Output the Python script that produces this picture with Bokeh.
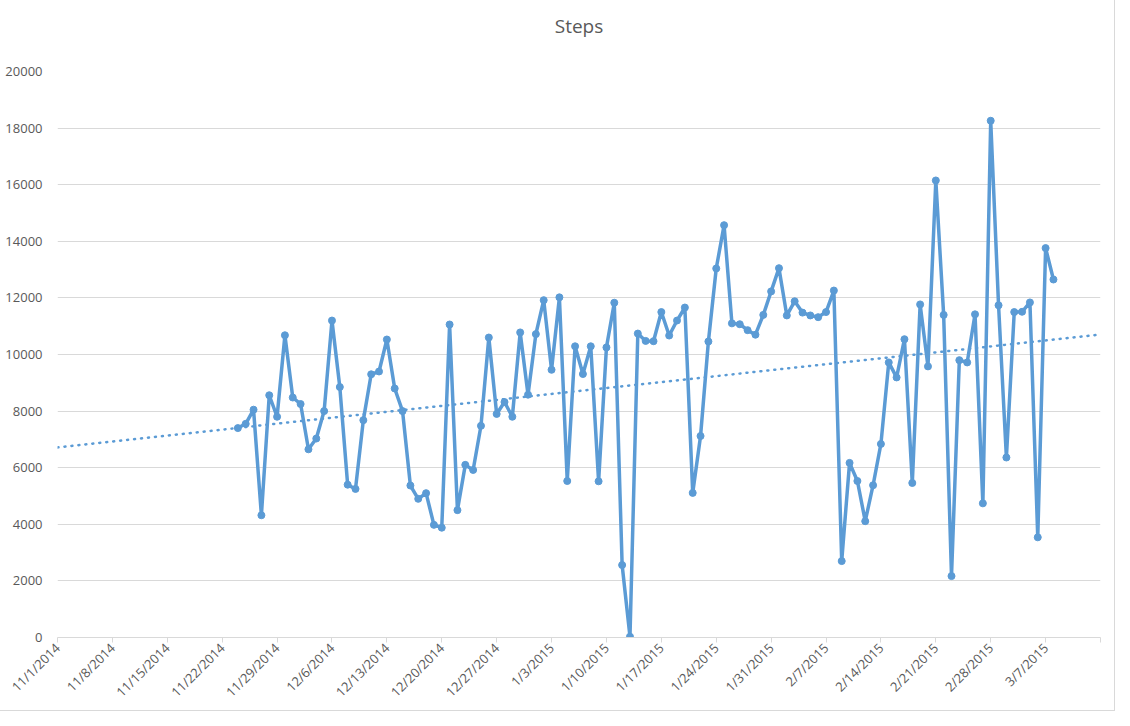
import numpy as np
import pandas as pd
from bokeh.plotting import figure
from bokeh.models import FixedTicker, Range1d, Title
from bokeh.embed import file_html
from bokeh.resources import INLINE

# ---- data ----
start_date = "2014-11-24"
steps = [
    7400, 7550, 8050, 4320, 8560, 7800, 10680, 8480, 8250, 6650,
    7030, 8000, 11200, 8850, 5400, 5250, 7680, 9300, 9400, 10530,
    8800, 8000, 5370, 4900, 5100, 3980, 3880, 11060, 4500, 6100,
    5920, 7480, 10600, 7900, 8320, 7800, 10780, 8580, 10720, 11920,
    9460, 12020, 5530, 10290, 9310, 10290, 5520, 10250, 11830, 2560,
    30, 10740, 10480, 10470, 11500, 10670, 11200, 11660, 5110, 7120,
    10460, 13040, 14570, 11100, 11070, 10860, 10700, 11400, 12230, 13050,
    11380, 11880, 11480, 11380, 11320, 11500, 12260, 2700, 6170, 5530,
    4110, 5380, 6840, 9720, 9190, 10540, 5460, 11770, 9580, 16150,
    11400, 2170, 9800, 9720, 11420, 4740, 18260, 11740, 6360, 11500,
    11510, 11840, 3540, 13760, 12650,
]
tick_dates = [
    "2014-11-01", "2014-11-08", "2014-11-15", "2014-11-22", "2014-11-29",
    "2014-12-06", "2014-12-13", "2014-12-20", "2014-12-27", "2015-01-03",
    "2015-01-10", "2015-01-17", "2015-01-24", "2015-01-31", "2015-02-07",
    "2015-02-14", "2015-02-21", "2015-02-28", "2015-03-07", "2015-03-14",
]
tick_labels = [
    "11/1/2014", "11/8/2014", "11/15/2014", "11/22/2014", "11/29/2014",
    "12/6/2014", "12/13/2014", "12/20/2014", "12/27/2014", "1/3/2015",
    "1/10/2015", "1/17/2015", "1/24/2015", "1/31/2015", "2/7/2015",
    "2/14/2015", "2/21/2015", "2/28/2015", "3/7/2015", "",
]
y_ticks = [0, 2000, 4000, 6000, 8000, 10000, 12000, 14000, 16000, 18000, 20000]

# ---- derived ----
dates = pd.date_range(start_date, periods=len(steps), freq="D")
epoch = pd.Timestamp("1970-01-01")
def to_ms(d):
    return int((pd.Timestamp(d) - epoch) / pd.Timedelta(milliseconds=1))

tick_ms = [to_ms(d) for d in tick_dates]
x_start, x_end = pd.Timestamp(tick_dates[0]), pd.Timestamp(tick_dates[-1])

# linear trendline (forecast over whole axis)
day_num = np.array([(d - x_start).days for d in dates], dtype=float)
slope, intercept = np.polyfit(day_num, np.array(steps, dtype=float), 1)
trend_x = [x_start, x_end]
trend_days = np.array([0.0, (x_end - x_start).days])
trend_y = intercept + slope * trend_days

BLUE = "#5B9BD5"
TXT = "#595959"
GRID = "#D9D9D9"
FONT = "Open Sans"

p = figure(
    width=1114, height=710, title=None,
    x_axis_type="datetime",
    x_range=Range1d(x_start, x_end),
    y_range=Range1d(0, 20000),
    output_backend="svg", toolbar_location=None,
    min_border_left=57, min_border_right=14,
    min_border_top=71, min_border_bottom=73,
)
p.styles = {"outline": "1px solid #D9D9D9"}
p.outline_line_color = None

# spacer between title and plot area, then the title itself
spacer = Title(text=" ", text_font=FONT, text_font_size="14px", standoff=12)
title = Title(text="Steps", align="center", text_font=FONT,
              text_font_size="19px", text_font_style="normal",
              text_color=TXT, standoff=0)
p.add_layout(spacer, "above")
p.add_layout(title, "above")

p.line(trend_x, trend_y, line_color=BLUE, line_width=2.5,
       line_dash="1 6", line_cap="round")
p.line(dates, steps, line_color=BLUE, line_width=3.5, line_join="round")
p.scatter(dates, steps, size=7, fill_color=BLUE, line_color=BLUE)

# x axis
xa = p.xaxis[0]
xa.ticker = FixedTicker(ticks=tick_ms)
xa.major_label_overrides = {t: lab for t, lab in zip(tick_ms, tick_labels)}
xa.major_label_orientation = np.pi / 4
xa.major_label_text_font = FONT
xa.major_label_text_font_size = "13px"
xa.major_label_text_color = TXT
xa.axis_line_color = GRID
xa.major_tick_line_color = GRID
xa.major_tick_in = 0
xa.major_tick_out = 5
xa.minor_tick_line_color = None
xa.major_label_standoff = 3

# y axis
ya = p.yaxis[0]
ya.ticker = FixedTicker(ticks=y_ticks)
ya.major_label_text_font = FONT
ya.major_label_text_font_size = "13px"
ya.major_label_text_color = TXT
ya.axis_line_color = None
ya.major_tick_line_color = None
ya.minor_tick_line_color = None
ya.major_label_standoff = 9

p.xgrid.grid_line_color = None
p.ygrid.grid_line_color = GRID
p.ygrid.ticker = FixedTicker(ticks=y_ticks)

open("out.html", "w").write(file_html(p, INLINE))
